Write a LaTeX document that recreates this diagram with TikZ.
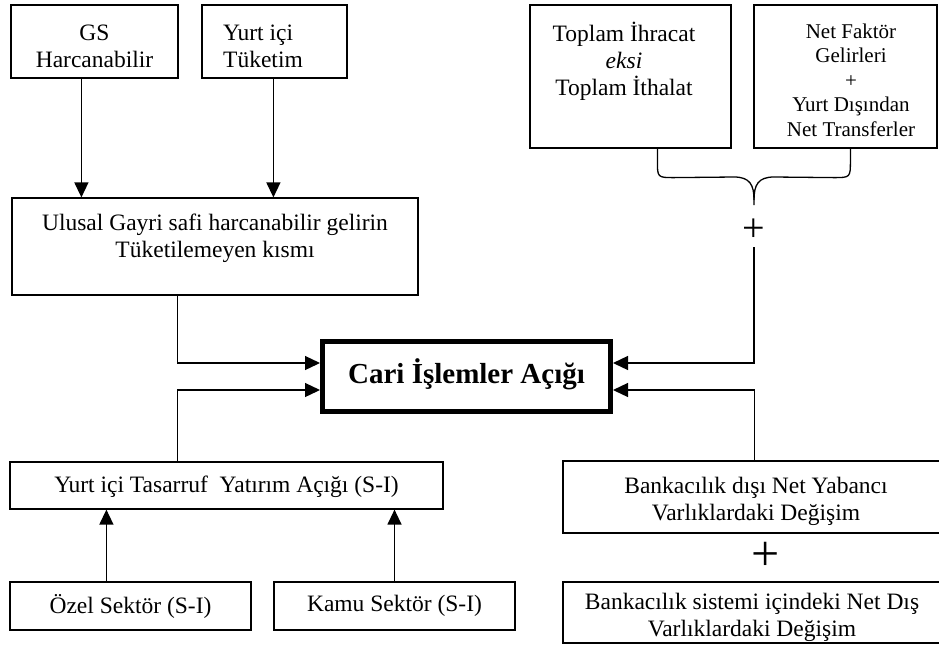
\documentclass[tikz,border=0pt]{standalone}
\usepackage{fontspec}
\setmainfont{Liberation Serif}
\usetikzlibrary{arrows.meta}
\begin{document}
\begin{tikzpicture}[x=1pt,y=-1pt,
  box/.style={draw,line width=1.2pt,rectangle,inner sep=0pt},
  txt/.style={align=center,inner sep=0pt,font=\fontsize{23.5}{27}\selectfont},
  smalltxt/.style={align=center,inner sep=0pt,font=\fontsize{21}{24.5}\selectfont},
  arr/.style={line width=1.3pt,-{Triangle[length=15pt,width=14pt]}},
  ln/.style={line width=1.3pt}]
\useasboundingbox (0,0) rectangle (939,654);
\clip (0,0) rectangle (939,654);
% boxes
\node[box,minimum width=167pt,minimum height=73pt] (gs) at (94.5,41.5) {};
\node[box,minimum width=145pt,minimum height=73pt] (yt) at (274.5,41.5) {};
\node[box,minimum width=406pt,minimum height=97pt] (ulusal) at (215,246.5) {};
\node[box,line width=5pt,outer sep=2.5pt,minimum width=288pt,minimum height=70pt] (cari) at (466.5,376.5) {};
\node[box,minimum width=433pt,minimum height=47pt] (tas) at (226.5,485.5) {};
\node[box,minimum width=241pt,minimum height=48pt] (ozel) at (130.5,606) {};
\node[box,minimum width=241pt,minimum height=48pt] (kamu) at (394.5,606) {};
\node[box,minimum width=201pt,minimum height=143pt] (toplam) at (630.5,76.5) {};
\node[box,minimum width=183pt,minimum height=143pt] (netf) at (845.5,76.5) {};
\node[box,minimum width=397pt,minimum height=72pt] (bd) at (761.5,497) {};
\node[box,minimum width=397pt,minimum height=61pt] (bs) at (761.5,612.5) {};
% texts
\node[txt] (gsT) at (94.5,46) {GS\\Harcanabilir};
\node[txt,align=left,anchor=west] (ytT) at (223,46) {Yurt içi\\Tüketim};
\node[txt] (ulusalT) at (215,238) {Ulusal Gayri safi harcanabilir gelirin\\Tüketilemeyen kısmı};
\node[inner sep=0pt,font=\bfseries\fontsize{29}{34}\selectfont] (cariT) at (466.5,374) {Cari İşlemler Açığı};
\node[txt] (tasT) at (226.5,487) {Yurt içi Tasarruf\ \ Yatırım Açığı (S-I)};
\node[txt] (ozelT) at (130.5,606) {Özel Sektör (S-I)};
\node[txt] (kamuT) at (394.5,606) {Kamu Sektör (S-I)};
\node[txt] (toplamT) at (624,61) {Toplam İhracat\\\textit{eksi}\\Toplam İthalat};
\node[smalltxt] (netfT) at (851,80) {Net Faktör\\Gelirleri\\+\\Yurt Dışından\\Net Transferler};
\node[txt] (bdT) at (756,501) {Bankacılık dışı Net Yabancı\\Varlıklardaki Değişim};
\node[txt] (bsT) at (752,617) {Bankacılık sistemi içindeki Net Dış\\Varlıklardaki Değişim};
\node[inner sep=0pt,minimum height=34pt,font=\fontsize{40}{40}\selectfont] (plus) at (754,230) {+};
\node[inner sep=0pt,font=\fontsize{50}{50}\selectfont] (bigplus) at (766,556) {+};
% brace
\coordinate (bl) at ([xshift=128pt]toplam.south west);
\coordinate (br) at ([xshift=97pt]netf.south west);
\draw[ln] (bl) -- ++(0,12) .. controls ++(0,17) .. ++(17,17) -- (734,177)
  .. controls (750,177) and (754,185) .. (754,200) -- (754,205);
\draw[ln] (br) -- ++(0,12) .. controls ++(0,17) .. ++(-17,17) -- (774,177)
  .. controls (758,177) and (754,185) .. (754,200);
% connectors
\draw[arr] ([xshift=71pt]gs.south west) coordinate (a1) -- (a1 |- ulusal.north);
\draw[arr] ([xshift=72pt]yt.south west) coordinate (a2) -- (a2 |- ulusal.north);
\draw[arr] ([xshift=166pt]ulusal.south west) |- ([yshift=13.5pt]cari.west);
\draw[arr] ([xshift=168pt]tas.north west) |- ([yshift=-13.5pt]cari.west);
\draw[arr] ([xshift=97pt]ozel.north west) coordinate (a3) -- (a3 |- tas.south);
\draw[arr] (kamu.north) -- (kamu.north |- tas.south);
\draw[arr] (plus.south) |- ([yshift=13.5pt]cari.east);
\draw[arr] ([xshift=192pt]bd.north west) |- ([yshift=-13.5pt]cari.east);
\end{tikzpicture}
\end{document}
